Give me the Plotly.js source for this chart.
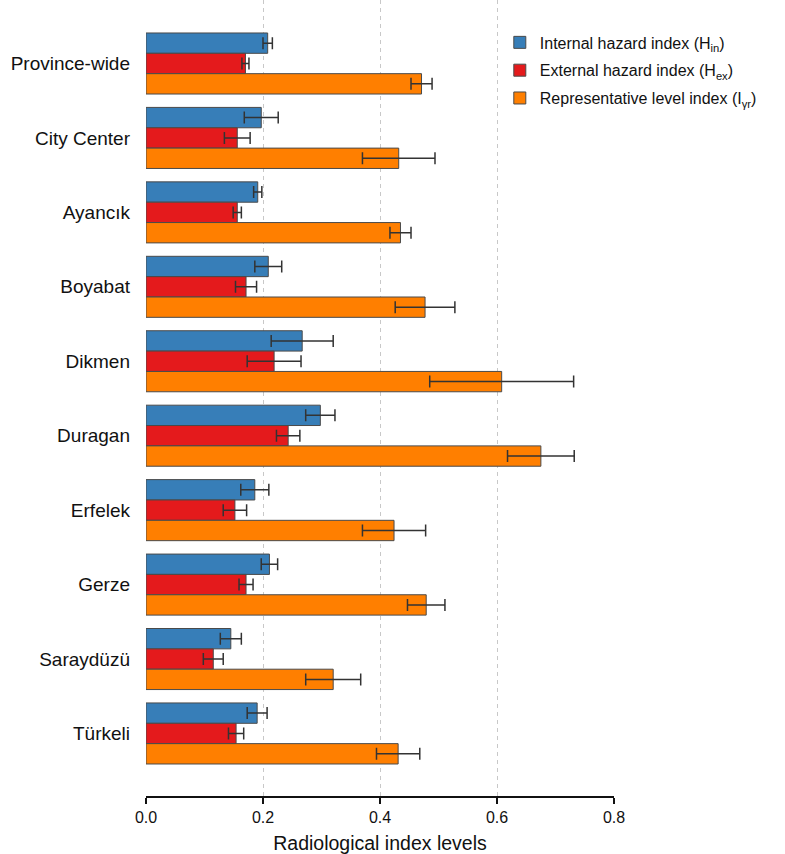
<!DOCTYPE html>
<html><head><meta charset="utf-8">
<script src="https://cdn.plot.ly/plotly-3.0.1.min.js"></script>
<style>body{margin:0;background:#fff}#chart{width:785px;height:854px}</style>
</head><body><div id="chart"></div>
<script>
const categories = ["Province-wide","City Center","Ayancık","Boyabat","Dikmen","Duragan","Erfelek","Gerze","Saraydüzü","Türkeli"];
const hinValues = [0.208,0.197,0.191,0.209,0.267,0.298,0.186,0.211,0.145,0.190];
const hinErrors = [0.008,0.029,0.007,0.023,0.053,0.025,0.024,0.014,0.018,0.017];
const hexValues = [0.170,0.156,0.156,0.171,0.219,0.243,0.152,0.171,0.115,0.154];
const hexErrors = [0.006,0.022,0.007,0.018,0.046,0.020,0.020,0.012,0.017,0.013];
const igrValues = [0.471,0.432,0.435,0.477,0.608,0.675,0.424,0.479,0.320,0.431];
const igrErrors = [0.018,0.062,0.018,0.051,0.123,0.057,0.054,0.032,0.047,0.037];
const seriesNames = ["Internal hazard index (H<sub>in</sub>)","External hazard index (H<sub>ex</sub>)","Representative level index (I<sub>γr</sub>)"];
const xTicks = [0,0.2,0.4,0.6,0.8];
const xTickLabels = ["0.0","0.2","0.4","0.6","0.8"];

const colors = ["#377EB8","#E41A1C","#FF7F00"];
const vals = [hinValues, hexValues, igrValues];
const errs = [hinErrors, hexErrors, igrErrors];
const traces = vals.map((v,i)=>({
  type:'bar', orientation:'h', name: seriesNames[i], legendgroup:'g'+i,
  y: categories, x: v,
  marker:{color:colors[i], line:{color:'#4a4a4a', width:1}},
  error_x:{type:'data', array: errs[i], visible:true, color:'#333', thickness:1.5, width:6}
}));
const layout = {
  width:785, height:854,
  margin:{l:146, r:171, t:0, b:58},
  paper_bgcolor:'#fff', plot_bgcolor:'#fff',
  font:{family:'"Liberation Sans", Arial, sans-serif', color:'#111'},
  barmode:'group', bargap:0.18, bargroupgap:0,
  showlegend:true,
  legend:{x:0.756, y:0.968, xanchor:'left', yanchor:'top', traceorder:'grouped',
    font:{size:16, color:'#111'}, bgcolor:'rgba(255,255,255,0)', tracegroupgap:4},
  xaxis:{range:[0,0.8], tickvals:xTicks, ticktext:xTickLabels,
    showgrid:true, gridcolor:'#c8c8c8', griddash:'4px,4px', gridwidth:1,
    zeroline:false, showline:true, linecolor:'#111', linewidth:1.5,
    ticks:'outside', ticklen:6, tickcolor:'#111', tickwidth:1.5,
    tickfont:{size:16, color:'#111'},
    title:{text:'Radiological index levels', font:{size:19.5, color:'#111'}, standoff:12}},
  yaxis:{type:'category', categoryorder:'array', categoryarray:categories,
    range:[9.84,-0.853], showgrid:false, zeroline:false, showline:false,
    ticks:'', ticklen:0, tickfont:{size:19, color:'#111'}, ticklabelstandoff:15}
};
Plotly.newPlot('chart', traces, layout, {displayModeBar:false, staticPlot:true});
</script></body></html>
